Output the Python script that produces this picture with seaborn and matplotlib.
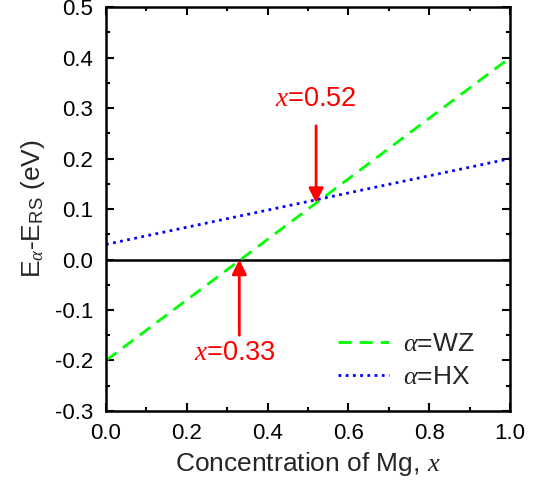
import numpy as np
import pandas as pd
import matplotlib
matplotlib.use("Agg")
import matplotlib.pyplot as plt
import seaborn as sns
from matplotlib.ticker import MultipleLocator

# Formation energy difference vs. Mg content (linear in x)
x_vals = [0.0, 1.0]
wz_vals = [-0.20, 0.40]
hx_vals = [0.03, 0.20]
crossings = [0.52, 0.33]
crossing_y = [0.112, 0.0]

sns.set_theme(style="ticks")
plt.rcParams["font.family"] = ["Liberation Sans", "DejaVu Sans"]
plt.rcParams["mathtext.fontset"] = "custom"
plt.rcParams["mathtext.rm"] = "Liberation Sans"
plt.rcParams["mathtext.sf"] = "Liberation Sans"
plt.rcParams["mathtext.it"] = "Liberation Serif:italic"

df = pd.DataFrame({
    "x": x_vals * 2,
    "E": wz_vals + hx_vals,
    "phase": [r"$\alpha$=WZ"] * 2 + [r"$\alpha$=HX"] * 2,
})

fig = plt.figure(figsize=(5.38, 4.84), dpi=100)
ax = fig.add_axes([0.197, 0.151, 0.751, 0.834])

ax.axhline(0.0, color="black", lw=1.8, zorder=1)
sns.lineplot(data=df, x="x", y="E", hue="phase", style="phase",
             palette=["#00ff00", "#0000ff"],
             dashes=[(4.7, 2.9), (1, 1.6)], lw=2, ax=ax, zorder=2)

ax.set_xlim(0, 1)
ax.set_ylim(-0.3, 0.5)
ax.xaxis.set_major_locator(MultipleLocator(0.2))
ax.xaxis.set_minor_locator(MultipleLocator(0.1))
ax.yaxis.set_major_locator(MultipleLocator(0.1))
ax.yaxis.set_minor_locator(MultipleLocator(0.05))
ax.set_xticklabels([f"{v:.1f}" for v in ax.get_xticks()])
ax.set_yticklabels([f"{v:.1f}" for v in ax.get_yticks()])
ax.tick_params(which="both", direction="in", top=True, right=True,
               width=1.5, labelsize=16, colors="black")
ax.tick_params(which="major", length=6, pad=9)
ax.tick_params(which="minor", length=3)
for s in ax.spines.values():
    s.set_linewidth(1.8)
    s.set_color("black")

ax.set_xlabel(r"Concentration of Mg, $x$", fontsize=19, labelpad=4)
ax.set_ylabel(r"E$_{\alpha}$-E$_{\mathrm{RS}}$ (eV)", fontsize=19, labelpad=6)

# Crossing markers
ax.annotate("", xy=(crossings[0], crossing_y[0]), xytext=(crossings[0], 0.265),
            arrowprops=dict(arrowstyle="-|>", color="red", lw=2,
                            mutation_scale=22, shrinkA=0, shrinkB=0))
ax.text(crossings[0], 0.318, rf"$x$=0.52", color="red", fontsize=19.5,
        ha="center", va="center")
ax.annotate("", xy=(crossings[1], crossing_y[1]), xytext=(crossings[1], -0.15),
            arrowprops=dict(arrowstyle="-|>", color="red", lw=2,
                            mutation_scale=22, shrinkA=0, shrinkB=0))
ax.text(crossings[1] - 0.01, -0.185, rf"$x$=0.33", color="red", fontsize=19.5,
        ha="center", va="center")

leg = ax.legend(loc="lower right", bbox_to_anchor=(0.97, -0.005), frameon=False,
                fontsize=19, handlelength=1.95, handletextpad=0.5,
                labelspacing=0.35, title=None)

fig.savefig("out.png", dpi=100)
